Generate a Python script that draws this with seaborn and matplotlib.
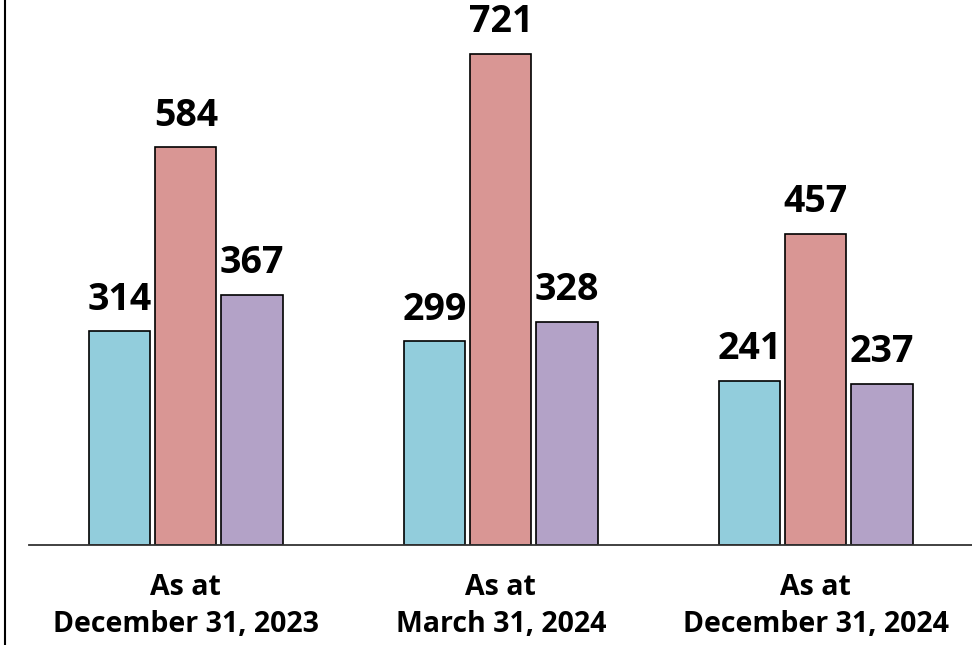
import matplotlib
matplotlib.use("Agg")
import matplotlib.pyplot as plt
from matplotlib.lines import Line2D
import seaborn as sns
import pandas as pd

categories = ["As at\nDecember 31, 2023", "As at\nMarch 31, 2024", "As at\nDecember 31, 2024"]
series_names = ["Series A", "Series B", "Series C"]
series_a = [314, 299, 241]
series_b = [584, 721, 457]
series_c = [367, 328, 237]
colors = ["#92CDDC", "#D99694", "#B3A2C7"]

rows = []
for name, vals in zip(series_names, [series_a, series_b, series_c]):
    for c, v in zip(categories, vals):
        rows.append({"period": c, "series": name, "value": v})
df = pd.DataFrame(rows)

sns.set_theme(style="white")
plt.rcParams["font.family"] = ["Open Sans", "DejaVu Sans"]

fig = plt.figure(figsize=(9.72, 6.45), dpi=100)
ax = fig.add_axes([29/972, 100/645, 943/972, 545/645])

sns.barplot(data=df, x="period", y="value", hue="series", order=categories,
            hue_order=series_names, palette=colors, saturation=1, width=0.63, gap=0.075,
            edgecolor="black", linewidth=1.2, legend=False, ax=ax)

for cont in ax.containers:
    ax.bar_label(cont, labels=[f"{int(v)}" for v in cont.datavalues], padding=9,
                 fontsize=27, fontweight="bold", color="black")

ax.set_ylim(0, 800)
ax.set_xlim(-0.498, 2.496)
ax.set_xlabel("")
ax.set_ylabel("")
ax.set_yticks([])
for s in ["top", "right", "left"]:
    ax.spines[s].set_visible(False)
ax.spines["bottom"].set_color("#333333")
ax.spines["bottom"].set_linewidth(1.3)
ax.tick_params(axis="x", length=0, pad=20, colors="black")
for lbl in ax.get_xticklabels():
    lbl.set_fontsize(20.5)
    lbl.set_fontweight("bold")
    lbl.set_color("black")
    lbl.set_linespacing(1.38)

fig.add_artist(Line2D([4.5/972, 4.5/972], [0, 1], transform=fig.transFigure,
                      color="black", linewidth=1.5))

fig.savefig("out.png", dpi=100)
